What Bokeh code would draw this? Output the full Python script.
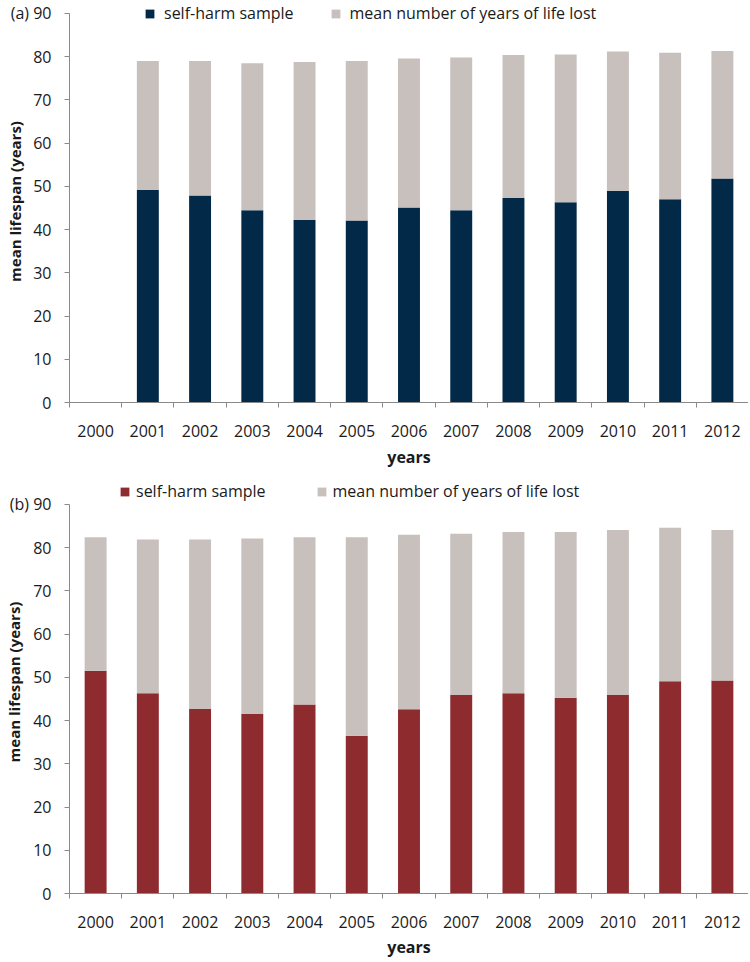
from bokeh.plotting import figure
from bokeh.models import ColumnDataSource, FixedTicker, Legend, LegendItem, Range1d
from bokeh.layouts import column
from bokeh.embed import file_html
from bokeh.resources import INLINE

NaN = float("nan")

# ---------------- data ----------------
years = ["2000", "2001", "2002", "2003", "2004", "2005", "2006",
         "2007", "2008", "2009", "2010", "2011", "2012"]

# panel (a): mean lifespan of self-harm sample and years of life lost
selfharm_a = [NaN, 49.2, 47.9, 44.5, 42.2, 42.1, 45.1, 44.5, 47.3, 46.3, 49.0, 47.0, 51.8]
lifelost_a = [NaN, 29.8, 31.1, 34.0, 36.6, 36.9, 34.5, 35.3, 33.1, 34.2, 32.2, 33.9, 29.5]

# panel (b)
selfharm_b = [51.5, 46.3, 42.7, 41.5, 43.7, 36.5, 42.6, 45.9, 46.3, 45.3, 45.9, 49.1, 49.3]
lifelost_b = [30.9, 35.6, 39.2, 40.6, 38.7, 45.9, 40.4, 37.3, 37.3, 38.3, 38.2, 35.5, 34.8]

y_ticks = [0, 10, 20, 30, 40, 50, 60, 70, 80, 90]
series_names = ["self-harm sample", "mean number of years of life lost"]
panel_tags = ["(a)", "(b)"]

# ---------------- style ----------------
FONT = "Open Sans"
TXT = "#1a1a1a"
AXIS = "#8a8a8a"
GREY = "#C7C0BC"


def make_panel(selfharm, lifelost, dark, tag, height, y_top, bottom,
               leg_x, leg_y, leg_spacing, leg_standoff, lab_standoff, ax_standoff):
    idx = list(range(len(years)))
    src = ColumnDataSource(dict(x=idx, selfharm=selfharm, lifelost=lifelost))
    # the frame reaches a little above 90 so the legend can sit on the top row
    p = figure(width=748, height=height, output_backend="svg", toolbar_location=None,
               x_range=Range1d(-0.5, len(years) - 0.5), y_range=Range1d(0, y_top),
               min_border_left=64, min_border_right=0,
               min_border_top=0, min_border_bottom=bottom,
               background_fill_color="white", border_fill_color="white")
    p.outline_line_color = None
    p.xgrid.visible = False
    p.ygrid.visible = False

    rs = p.vbar_stack(["selfharm", "lifelost"], x="x", width=0.42, source=src,
                      color=[dark, GREY], line_color=None)

    # x axis
    xa = p.xaxis[0]
    xa.ticker = FixedTicker(ticks=idx, minor_ticks=[i - 0.5 for i in range(len(years) + 1)])
    xa.major_label_overrides = {i: y for i, y in zip(idx, years)}
    xa.major_tick_out = 0
    xa.major_tick_in = 0
    xa.minor_tick_out = 5
    xa.minor_tick_in = 0
    xa.minor_tick_line_color = AXIS
    xa.axis_line_color = AXIS
    xa.major_label_text_font = FONT
    xa.major_label_text_font_size = "16px"
    xa.major_label_text_color = TXT
    xa.major_label_standoff = lab_standoff
    xa.axis_label = "years"
    xa.axis_label_text_font = FONT
    xa.axis_label_text_font_style = "bold"
    xa.axis_label_text_font_size = "16px"
    xa.axis_label_text_color = TXT
    xa.axis_label_standoff = ax_standoff

    # y axis (panel tag shares the row of the top tick label)
    ya = p.yaxis[0]
    ya.ticker = FixedTicker(ticks=y_ticks)
    ya.bounds = (0, 90)
    ya.major_label_overrides = {90: tag + " 90"}
    ya.minor_tick_line_color = None
    ya.major_tick_out = 5
    ya.major_tick_in = 0
    ya.major_tick_line_color = AXIS
    ya.axis_line_color = AXIS
    ya.major_label_text_font = FONT
    ya.major_label_text_font_size = "16px"
    ya.major_label_text_color = TXT
    ya.major_label_standoff = 13
    ya.axis_label = "mean lifespan (years)"
    ya.axis_label_text_font = FONT
    ya.axis_label_text_font_style = "bold"
    ya.axis_label_text_font_size = "15px"
    ya.axis_label_text_color = TXT
    ya.axis_label_standoff = -17

    leg = Legend(items=[LegendItem(label=n, renderers=[r]) for n, r in zip(series_names, rs)],
                 location=(leg_x, leg_y), orientation="horizontal",
                 padding=0, margin=0, spacing=leg_spacing, label_standoff=leg_standoff,
                 glyph_width=11, glyph_height=11, label_height=20,
                 label_text_font=FONT, label_text_font_size="16px",
                 label_text_color=TXT, border_line_color=None,
                 background_fill_alpha=0)
    p.add_layout(leg, "center")
    return p


pa = make_panel(selfharm_a, lifelost_a, "#022A48", panel_tags[0], 470, 93.0, 67,
                75, 378, 36, 9, 17, 6)
pb = make_panel(selfharm_b, lifelost_b, "#8E2B2F", panel_tags[1], 490, 97.85, 66,
                50, 391, 50, 6, 17, 5)

layout = column(pa, pb, spacing=0)
open("out.html", "w").write(file_html(layout, INLINE))
